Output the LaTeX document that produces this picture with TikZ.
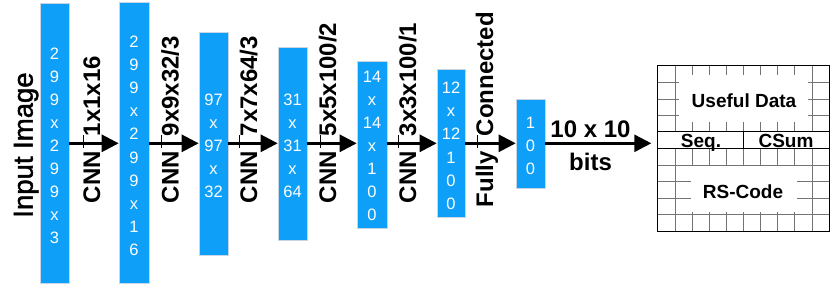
\documentclass[tikz,border=0pt]{standalone}
\usepackage{fontspec}
\setmainfont{Liberation Sans}
\newfontfamily\inputfont[FakeBold=1.6]{Liberation Sans}
\usetikzlibrary{arrows.meta}
\definecolor{layerblue}{RGB}{14,159,248}
\definecolor{layeredge}{RGB}{200,214,228}
\definecolor{gridgray}{RGB}{115,115,115}
\begin{document}
\begin{tikzpicture}[x=1pt,y=-1pt,
  layer/.style={fill=layerblue,draw=layeredge,line width=0.6pt,minimum width=29pt,inner sep=0pt},
  dims/.style={text=white,align=center,inner sep=0pt,font=\fontsize{16.5}{23.1}\selectfont},
  conn/.style={line width=2.7pt,-{Triangle[length=17pt,width=17pt]}},
  lab/.style={rotate=90,inner sep=0pt,font=\fontsize{24}{28}\selectfont\bfseries},
  tickmark/.style={line width=0.7pt},
  gridline/.style={draw=gridgray,line width=0.8pt},
  frameline/.style={draw=black,line width=1.3pt},
  fieldtext/.style={font=\fontsize{19}{22}\selectfont\bfseries,inner sep=0pt},
  whitebox/.style={fill=white,inner sep=0pt},
]
\useasboundingbox (0,0) rectangle (830,285);

% ---- layers ----
\node[layer,minimum height=280pt] (b1) at (54.5,143) {};
\node[layer,minimum width=30pt,minimum height=281pt] (b2) at (134,142.5) {};
\node[layer,minimum height=223pt] (b3) at (213.5,143.5) {};
\node[layer,minimum height=193pt] (b4) at (292.5,143.5) {};
\node[layer,minimum width=30pt,minimum height=167pt] (b5) at (372,144.5) {};
\node[layer,minimum width=28pt,minimum height=148pt] (b6) at (451,143) {};
\node[layer,minimum height=89pt] (b7) at (530.5,143.5) {};

\coordinate (tc) at (0,145.8);
\node[dims] (d1) at (b1.center |- tc) {2\\9\\9\\x\\2\\9\\9\\x\\3};
\node[dims] (d2) at (b2.center |- tc) {2\\9\\9\\x\\2\\9\\9\\x\\1\\6};
\node[dims] (d3) at (b3.center |- tc) {97\\x\\97\\x\\32};
\node[dims] (d4) at (b4.center |- tc) {31\\x\\31\\x\\64};
\node[dims] (d5) at (b5.center |- tc) {14\\x\\14\\x\\1\\0\\0};
\node[dims] (d6) at (b6.center |- tc) {12\\x\\12\\1\\0\\0};
\node[dims] (d7) at (b7.center |- tc) {1\\0\\0};

% ---- input label ----
\node[rotate=90,inner sep=0pt,anchor=base,font=\inputfont\fontsize{27.5}{30}\selectfont] (inp) at (32.7,145) {Input Image};

% ---- grid (output frame) ----
\node[minimum width=171pt,minimum height=165pt,inner sep=0pt] (grid) at (743.5,148.5) {};
\foreach \i in {1,...,9} {
  \draw[gridline] ({658+17.1*\i},66) -- ({658+17.1*\i},231);
  \draw[gridline] (658,{66+16.5*\i}) -- (829,{66+16.5*\i});
}
\fill[white] (658,131.7) rectangle (829,148.3);
\node[whitebox,minimum width=129pt,minimum height=47pt] (usefulbox) at (743.5,98.5) {};
\node[fieldtext] (useful) at (744,100.5) {Useful Data};
\node[whitebox,minimum width=106pt,minimum height=46pt] (rsbox) at (743.5,189) {};
\node[fieldtext] (rs) at (743,191.5) {RS-Code};
\node[fieldtext,anchor=base] (seq) at (701,147.5) {Seq.};
\node[fieldtext,anchor=base] (csum) at (786,147.5) {CSum};
\draw[frameline] (658,131.7) -- (829,131.7);
\draw[frameline] (658,148.3) -- (829,148.3);
\draw[frameline] (743.5,131.7) -- (743.5,148.3);
\draw[frameline] (grid.north west) rectangle (grid.south east);

% ---- arrows ----
\coordinate (ay) at (0,143.3);
\draw[conn] (b1.east |- ay) -- (b2.west |- ay);
\draw[conn] (b2.east |- ay) -- (b3.west |- ay);
\draw[conn] (b3.east |- ay) -- (b4.west |- ay);
\draw[conn] (b4.east |- ay) -- (b5.west |- ay);
\draw[conn] (b5.east |- ay) -- (b6.west |- ay);
\draw[conn] (b6.east |- ay) -- (b7.west |- ay);
\draw[conn,shorten >=6.5pt] (b7.east |- ay) -- (grid.west |- ay);

% ---- arrow labels ----
\node[lab,anchor=base east] (c1) at (100,151) {CNN};
\node[lab,anchor=base west] (k1) at (100,136.5) {1x1x16};
\node[lab,anchor=base east] (c2) at (178.5,151) {CNN};
\node[lab,anchor=base west] (k2) at (178.5,136.5) {9x9x32/3};
\node[lab,anchor=base east] (c3) at (257,151) {CNN};
\node[lab,anchor=base west] (k3) at (257,136.5) {7x7x64/3};
\node[lab,anchor=base east] (c4) at (336,151) {CNN};
\node[lab,anchor=base west] (k4) at (336,136.5) {5x5x100/2};
\node[lab,anchor=base east] (c5) at (416,151) {CNN};
\node[lab,anchor=base west] (k5) at (416,136.5) {3x3x100/1};
\node[lab,anchor=base east] (c6) at (493,151) {Fully};
\node[lab,anchor=base west] (k6) at (493,136.5) {Connected};

\foreach \x in {83,161,239,320,398,477} \draw[tickmark] (\x,135) -- (\x,148);

\node[anchor=base,inner sep=0pt,font=\fontsize{24}{28}\selectfont\bfseries] (tenten) at (590.5,137) {10 x 10};
\node[anchor=base,inner sep=0pt,font=\fontsize{24}{28}\selectfont\bfseries] (bits) at (590.5,170) {bits};
\end{tikzpicture}
\end{document}
